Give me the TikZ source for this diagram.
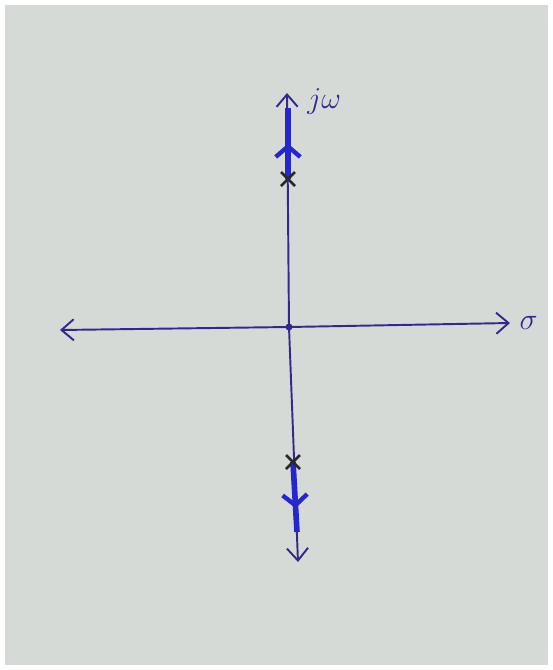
\documentclass[tikz,border=0pt]{standalone}
\usepackage{tikz}
\usetikzlibrary{arrows.meta,decorations.markings,calc,positioning}
\definecolor{paper}{RGB}{214,218,215}
\definecolor{axisblue}{RGB}{52,40,140}
\definecolor{locusblue}{RGB}{38,38,205}
\definecolor{penblack}{RGB}{40,40,45}

\tikzset{
  axisline/.style={axisblue,line width=1.1pt,-{Straight Barb[length=7pt,width=12pt]}},
  locus/.style={locusblue,line width=3.2pt,
    postaction={decorate},
    decoration={markings,mark=at position #1 with {\arrow{Straight Barb[length=6pt,width=14pt,line width=2.5pt]}}}},
  polemark/.style={penblack,line width=1.6pt},
}

\begin{document}
\begin{tikzpicture}[x=0.02cm,y=-0.02cm]
    % paper photo
    \fill[white] (0,0) rectangle (552,670);
    \fill[paper] (5,5) rectangle (548,665);
    \useasboundingbox (0,0) rectangle (552,670);

    \coordinate (O) at (289,327);
    \coordinate (XL) at (60,330);
    \coordinate (XR) at (510,323);
    \coordinate (YT) at (287,93);
    \coordinate (YB) at (298,562);
    \coordinate (P1) at (288,179);
    \coordinate (P2) at (293,462);
    \coordinate (E1) at (288,108);
    \coordinate (E2) at (297,532);

    % axes
    \draw[axisline] (O) -- (XL);
    \draw[axisline] (O) -- (XR);
    \draw[axisline] (O) -- (YT);
    \draw[axisline] (O) -- (YB);
    \fill[axisblue] (O) circle (2pt);

    % root locus branches
    \draw[locus=0.5] (P1) -- (E1);
    \draw[locus=0.66] (P2) -- (E2);

    % open-loop poles
    \foreach \p in {P1,P2} {
      \draw[polemark] ($(\p)+(-7,-7)$) -- ($(\p)+(7,7)$);
      \draw[polemark] ($(\p)+(-7,7)$) -- ($(\p)+(7,-7)$);
    }

    % labels
    \node[axisblue,font=\LARGE,right=8pt of YT,yshift=-5pt] (jw) {$j\omega$};
    \node[axisblue,font=\LARGE,right=2pt of XR] (sig) {$\sigma$};
\end{tikzpicture}
\end{document}
